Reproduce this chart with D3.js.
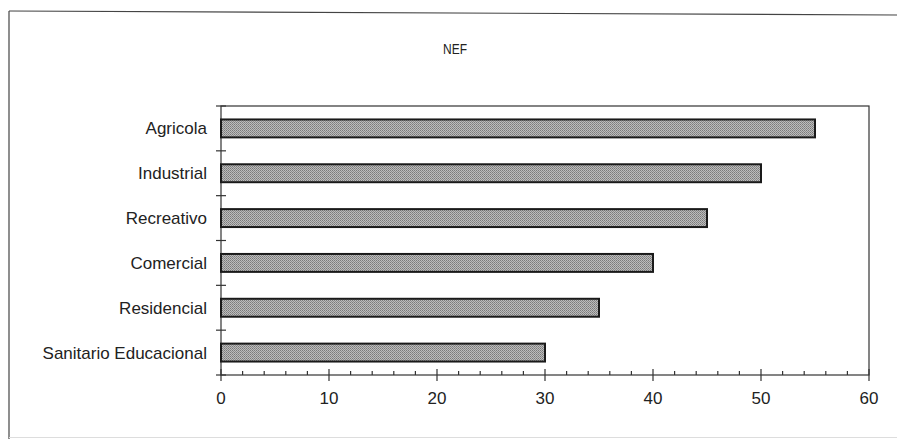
<!DOCTYPE html>
<html>
<head>
<meta charset="utf-8">
<script src="https://cdn.jsdelivr.net/npm/d3@7"></script>
<style>
  body { margin: 0; background: #fff; }
  text { font-family: "Liberation Sans", Arial, sans-serif; fill: #222; }
</style>
</head>
<body>
<div id="chart"></div>
<script>
// categories top to bottom and their NEF values
var categories = ["Agricola", "Industrial", "Recreativo", "Comercial", "Residencial", "Sanitario Educacional"];
var values = [55, 50, 45, 40, 35, 30];
var xTicks = [0, 10, 20, 30, 40, 50, 60];
var title = "NEF";

var width = 897, height = 439;
var plot = { left: 221, right: 869, top: 106, bottom: 375 };

var svg = d3.select("#chart").append("svg")
  .attr("width", width).attr("height", height);

// stipple pattern for the bars
var defs = svg.append("defs");
var pat = defs.append("pattern").attr("id", "dots")
  .attr("width", 2).attr("height", 2).attr("patternUnits", "userSpaceOnUse");
pat.append("rect").attr("width", 2).attr("height", 2).attr("fill", "#bcbcbc");
pat.append("rect").attr("width", 1).attr("height", 1).attr("fill", "#7a7a7a");
pat.append("rect").attr("x", 1).attr("y", 1).attr("width", 1).attr("height", 1).attr("fill", "#8c8c8c");

// outer frame (only left, top and bottom are in view)
svg.append("line").attr("x1", 9).attr("y1", 11).attr("x2", 897).attr("y2", 15)
  .attr("stroke", "#444").attr("stroke-width", 1.2);
svg.append("line").attr("x1", 9).attr("y1", 11).attr("x2", 9).attr("y2", 439)
  .attr("stroke", "#444").attr("stroke-width", 1.2);
svg.append("line").attr("x1", 9).attr("y1", 437.5).attr("x2", 897).attr("y2", 437.5)
  .attr("stroke", "#ddd").attr("stroke-width", 1);

// title, a bit condensed like the scan
svg.append("g").attr("transform", "translate(455,54) scale(0.8,1)")
  .append("text")
  .attr("text-anchor", "middle").attr("font-size", 15)
  .text(title);

var x = d3.scaleLinear().domain([0, 60]).range([plot.left, plot.right]);
var y = d3.scaleBand().domain(categories).range([plot.top, plot.bottom]).paddingInner(0.6).paddingOuter(0.3);
var yEdges = d3.scaleLinear().domain([0, categories.length]).range([plot.top, plot.bottom]);

// plot frame
svg.append("rect")
  .attr("x", plot.left).attr("y", plot.top)
  .attr("width", plot.right - plot.left).attr("height", plot.bottom - plot.top)
  .attr("fill", "none").attr("stroke", "#333").attr("stroke-width", 1.2);

// bars
svg.selectAll("rect.bar").data(values).enter().append("rect")
  .attr("class", "bar")
  .attr("x", x(0))
  .attr("y", function (d, i) { return y(categories[i]); })
  .attr("width", function (d) { return x(d) - x(0); })
  .attr("height", y.bandwidth())
  .attr("fill", "url(#dots)")
  .attr("stroke", "#1a1a1a").attr("stroke-width", 2);

// category boundary ticks on the y axis
svg.selectAll("line.ytick").data(d3.range(categories.length + 1)).enter().append("line")
  .attr("class", "ytick")
  .attr("x1", plot.left - 5).attr("x2", plot.left + 5)
  .attr("y1", function (d) { return yEdges(d); })
  .attr("y2", function (d) { return yEdges(d); })
  .attr("stroke", "#333").attr("stroke-width", 1.2);

// category labels
svg.selectAll("text.cat").data(categories).enter().append("text")
  .attr("class", "cat")
  .attr("x", 207)
  .attr("y", function (d) { return y(d) + y.bandwidth() / 2; })
  .attr("dy", "0.35em")
  .attr("text-anchor", "end").attr("font-size", 17)
  .text(function (d) { return d; });

// x axis: major ticks cross the axis, minor ticks point up
svg.selectAll("line.xmajor").data(xTicks).enter().append("line")
  .attr("class", "xmajor")
  .attr("x1", function (d) { return x(d); }).attr("x2", function (d) { return x(d); })
  .attr("y1", plot.bottom - 6).attr("y2", plot.bottom + 6)
  .attr("stroke", "#333").attr("stroke-width", 1.2);

var minor = d3.range(0, 61, 2).filter(function (d) { return d % 10 !== 0; });
svg.selectAll("line.xminor").data(minor).enter().append("line")
  .attr("class", "xminor")
  .attr("x1", function (d) { return x(d); }).attr("x2", function (d) { return x(d); })
  .attr("y1", plot.bottom - 4).attr("y2", plot.bottom)
  .attr("stroke", "#333").attr("stroke-width", 1.2);

svg.selectAll("text.xlab").data(xTicks).enter().append("text")
  .attr("class", "xlab")
  .attr("x", function (d) { return x(d); })
  .attr("y", 404)
  .attr("text-anchor", "middle").attr("font-size", 17)
  .text(function (d) { return d; });
</script>
</body>
</html>
